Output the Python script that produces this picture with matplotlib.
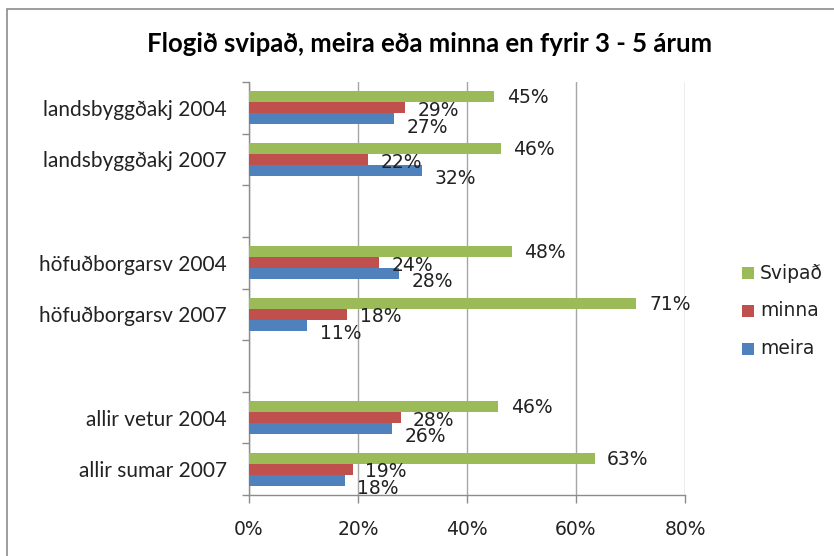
import matplotlib
matplotlib.use("Agg")
import matplotlib.pyplot as plt
from matplotlib.patches import Rectangle
import numpy as np

categories = ["landsbyggðakj 2004", "landsbyggðakj 2007", "",
              "höfuðborgarsv 2004", "höfuðborgarsv 2007", "",
              "allir vetur 2004", "allir sumar 2007"]
svipad = [45.0, 46.2, None, 48.2, 71.1, None, 45.7, 63.4]
minna = [28.6, 21.9, None, 23.9, 18.0, None, 27.8, 19.0]
meira = [26.6, 31.7, None, 27.6, 10.7, None, 26.2, 17.6]
series_names = ["Svipað", "minna", "meira"]
xticks = [0, 20, 40, 60, 80]
title = "Flogið svipað, meira eða minna en fyrir 3 - 5 árum"

colors = {"Svipað": "#9BBB59", "minna": "#C0504D", "meira": "#4F81BD"}

W, H = 834, 556
fig = plt.figure(figsize=(W / 100, H / 100), dpi=100)
fig.patch.set_facecolor("white")
fig.patches.append(Rectangle((7 / W, -0.1), 1.2, 1 - 9 / H + 0.1, transform=fig.transFigure,
                             fill=False, edgecolor="#8c8c8c", linewidth=1.2))

ax = fig.add_axes([249 / W, 1 - 495 / H, (685 - 249) / W, (495 - 82) / H])
bh = 0.213
y = np.arange(len(categories))
offsets = {"Svipað": -bh, "minna": 0.0, "meira": bh}
label_dy = {"Svipað": 0.02, "minna": 0.05, "meira": 0.16}
for name, vals in zip(series_names, [svipad, minna, meira]):
    for i, v in enumerate(vals):
        if v is None:
            continue
        yy = y[i] + offsets[name]
        ax.barh(yy, v, height=bh, color=colors[name], edgecolor="none", zorder=3)
        ax.text(v + 2.3, yy + label_dy[name], f"{round(v)}%", va="center", ha="left",
                fontsize=13.5, color="#222222", family="DejaVu Sans", zorder=4)

ax.set_xlim(0, 80)
ax.set_ylim(len(categories) - 0.5, -0.5)
ax.set_xticks(xticks)
ax.set_xticklabels([f"{t}%" for t in xticks], fontsize=13.5, family="DejaVu Sans", color="#222222")
ax.set_yticks(y)
ax.set_yticklabels(categories, fontsize=15, family="Lato", color="#222222")
ax.tick_params(axis="y", length=0, pad=16)
ax.set_yticks(np.arange(-0.5, len(categories)), minor=True)
ax.tick_params(axis="y", which="minor", length=5, color="#8c8c8c", width=1)
ax.tick_params(axis="x", length=6, color="#8c8c8c", width=1, pad=12)
ax.grid(axis="x", color="#a6a6a6", linewidth=1, zorder=0)
for s in ["top", "right"]:
    ax.spines[s].set_visible(False)
for s in ["left", "bottom"]:
    ax.spines[s].set_color("#8c8c8c")
    ax.spines[s].set_linewidth(1)

fig.text(430 / W, 1 - 44 / H, title, ha="center", va="center", fontsize=18.5,
         family="Lato", fontweight="bold", color="black")

leg_y = [273, 311, 349]
for name, ly in zip(series_names, leg_y):
    fig.patches.append(Rectangle((742 / W, 1 - (ly + 6) / H), 12 / W, 12 / H,
                                 transform=fig.transFigure, facecolor=colors[name], edgecolor="none"))
    fig.text(760 / W, 1 - ly / H, name, ha="left", va="center", fontsize=13.5,
             family="DejaVu Sans", color="#222222")

fig.savefig("out.png", dpi=100, facecolor="white")
